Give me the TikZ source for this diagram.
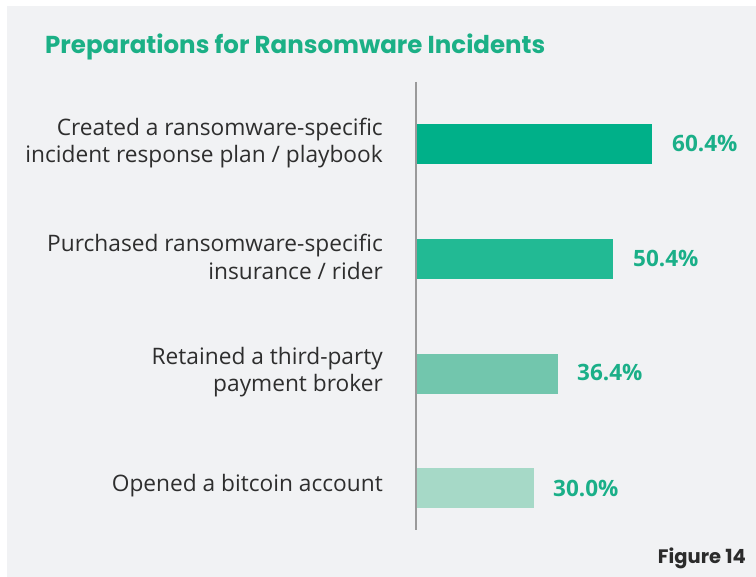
\documentclass[tikz,border=0pt]{standalone}
\usepackage{fontspec}
\setmainfont{Open Sans}
\newfontfamily\titlefont{Poppins}
\definecolor{panel}{HTML}{F1F2F4}
\definecolor{titlegreen}{HTML}{1BB086}
\definecolor{valgreen}{HTML}{1AAF88}
\definecolor{barA}{HTML}{00B089}
\definecolor{barB}{HTML}{22BA94}
\definecolor{barC}{HTML}{72C6AD}
\definecolor{barD}{HTML}{A6D9C7}
\definecolor{axisgray}{HTML}{9A9A9A}
\definecolor{labeltext}{HTML}{2E2E2E}
\definecolor{figtext}{HTML}{2B2B2B}
\begin{document}
\begin{tikzpicture}[x=1pt,y=-1pt,
  catlabel/.style={anchor=east,align=right,font=\fontsize{22.7}{27.5}\selectfont,text=labeltext,inner sep=0pt},
  vallabel/.style={anchor=west,font=\bfseries\fontsize{22.5}{26}\selectfont,text=valgreen,inner sep=0pt},
  bar/.style={draw=none,inner sep=0pt}]
\useasboundingbox (0,0) rectangle (756,577);
\fill[white] (0,0) rectangle (756,577);
\fill[panel] (7,6) rectangle (756,577);
\node[anchor=base west,inner sep=0pt,text=titlegreen,font=\titlefont\bfseries\fontsize{24.5}{30}\selectfont] (title) at (45,54) {Preparations for Ransomware Incidents};
% bars
\fill[barA] (416,124) rectangle (652,164);
\fill[barB] (416,239) rectangle (613,279);
\fill[barC] (416,354) rectangle (558,394);
\fill[barD] (416,468) rectangle (534,508);
\coordinate (ax1) at (416,82);
\coordinate (ax2) at (416,530);
\draw[axisgray,line width=1.2pt] (ax1) -- (ax2);
% category labels
\node[catlabel] (c1) at (383,143) {Created a ransomware-specific\\incident response plan / playbook};
\node[catlabel] (c2) at (383,257) {Purchased ransomware-specific\\insurance / rider};
\node[catlabel] (c3) at (383,372) {Retained a third-party\\payment broker};
\node[catlabel] (c4) at (383,486) {Opened a bitcoin account};
% values
\node[vallabel] (v1) at (672,143) {60.4\%};
\node[vallabel] (v2) at (633,258) {50.4\%};
\node[vallabel] (v3) at (577,373) {36.4\%};
\node[vallabel] (v4) at (553,488) {30.0\%};
\node[anchor=base east,inner sep=0pt,text=figtext,font=\titlefont\bfseries\fontsize{19.5}{22}\selectfont] (fig) at (746,563) {Figure 14};
\end{tikzpicture}
\end{document}
